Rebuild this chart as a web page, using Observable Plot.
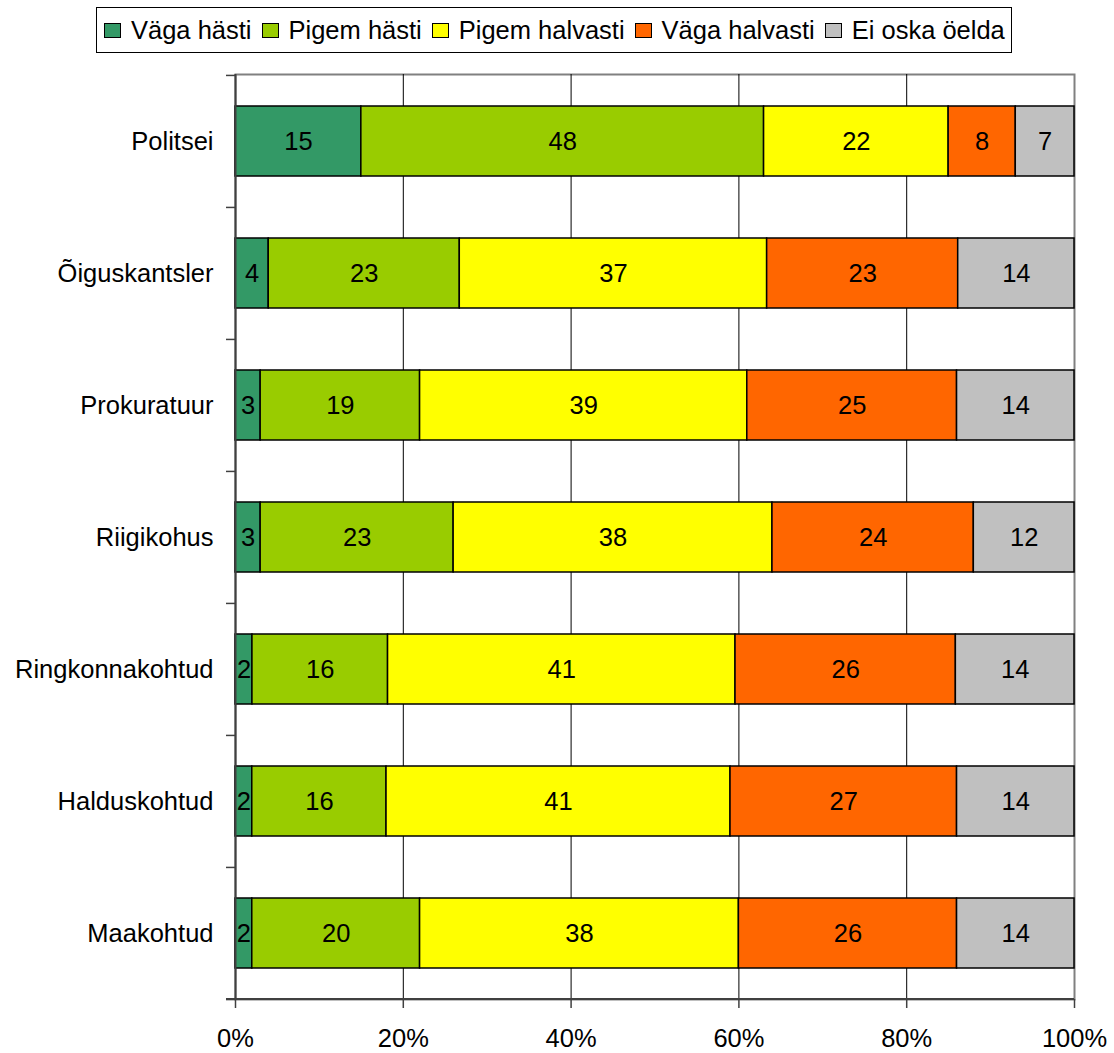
<!DOCTYPE html>
<html>
<head>
<meta charset="utf-8">
<script src="https://cdn.jsdelivr.net/npm/d3@7"></script>
<script src="https://cdn.jsdelivr.net/npm/@observablehq/plot@0.6"></script>
<style>
  html, body { margin: 0; padding: 0; background: #fff; }
  body { font-family: "Liberation Sans", Arial, sans-serif; width: 1114px; height: 1053px; position: relative; overflow: hidden; }
  #legend { position: absolute; left: 96px; top: 7px; height: 46px; box-sizing: border-box; border: 1px solid #000;
            display: inline-flex; align-items: center; padding: 0 6px 0 7px; font-size: 25.5px; white-space: nowrap; color: #000; }
  #legend .item { display: inline-flex; align-items: center; margin-right: 10px; }
  #legend .item:last-child { margin-right: 0; }
  #legend .sw { width: 15px; height: 13px; border: 1.5px solid #000; margin-right: 10px; display: inline-block; }
  #chart { position: absolute; left: 0; top: 60px; }
</style>
</head>
<body>
<div id="legend"></div>
<div id="chart"></div>
<script>
// ---- data ----
const categories = ["Politsei", "Õiguskantsler", "Prokuratuur", "Riigikohus", "Ringkonnakohtud", "Halduskohtud", "Maakohtud"];
const series = ["Väga hästi", "Pigem hästi", "Pigem halvasti", "Väga halvasti", "Ei oska öelda"];
const vagaHasti     = [15,  4,  3,  3,  2,  2,  2];
const pigemHasti    = [48, 23, 19, 23, 16, 16, 20];
const pigemHalvasti = [22, 37, 39, 38, 41, 41, 38];
const vagaHalvasti  = [ 8, 23, 25, 24, 26, 27, 26];
const eiOska        = [ 7, 14, 14, 12, 14, 14, 14];
const seriesColors = ["#339966", "#99cc00", "#ffff00", "#ff6600", "#c0c0c0"];
const xTicks = [0, 0.2, 0.4, 0.6, 0.8, 1];

const seriesValues = [vagaHasti, pigemHasti, pigemHalvasti, vagaHalvasti, eiOska];
const data = [];
categories.forEach((c, i) => {
  series.forEach((s, j) => data.push({cat: c, series: s, value: seriesValues[j][i]}));
});

// ---- legend ----
const legend = d3.select("#legend");
series.forEach((s, j) => {
  const it = legend.append("span").attr("class", "item");
  it.append("span").attr("class", "sw").style("background", seriesColors[j]);
  it.append("span").text(s);
});

// ---- chart ----
const W = 1114, H = 993;
const mT = 14, mB = 54, mL = 235, mR = 40;
const step = (H - mT - mB) / categories.length;
const fs = 25.5;

const bottomLine = (index, scales, values, dims) => {
  const g = d3.create("svg:g");
  const yb = dims.height - dims.marginBottom;
  g.append("line")
    .attr("x1", scales.x(0) - 9).attr("x2", scales.x(1))
    .attr("y1", yb).attr("y2", yb)
    .attr("stroke", "#404040").attr("stroke-width", 2);
  return g.node();
};

const chart = Plot.plot({
  width: W, height: H,
  marginTop: mT, marginBottom: mB, marginLeft: mL, marginRight: mR,
  style: {fontFamily: "'Liberation Sans', Arial, sans-serif", fontSize: fs + "px", color: "#000", background: "#fff"},
  x: {domain: [0, 1]},
  y: {domain: categories, paddingInner: 0.47, paddingOuter: 0.235, label: null},
  color: {domain: series, range: seriesColors},
  marks: [
    Plot.frame({stroke: "#808080", strokeWidth: 2}),
    Plot.ruleX(xTicks.slice(1, -1), {stroke: "#000", strokeWidth: 1}),
    Plot.barX(data, {x: "value", y: "cat", fill: "series", stroke: "#000", strokeWidth: 1.5, offset: "normalize"}),
    Plot.text(data, Plot.stackX({x: "value", y: "cat", text: "value", offset: "normalize", fill: "#000", fontSize: fs})),
    Plot.ruleX([0], {stroke: "#404040", strokeWidth: 2}),
    bottomLine,
    Plot.axisY({tickSize: 0, tickPadding: 22, fontSize: fs, label: null}),
    Plot.axisY(categories, {tickSize: 9, tickFormat: () => "", dy: -step / 2, stroke: "#404040", strokeWidth: 1.5}),
    Plot.axisY(categories.slice(-1), {tickSize: 9, tickFormat: () => "", dy: step / 2, stroke: "#404040", strokeWidth: 1.5}),
    Plot.axisX(xTicks, {tickSize: 9, tickPadding: 20, tickFormat: d3.format(".0%"), fontSize: fs, label: null, stroke: "#404040", strokeWidth: 1.5})
  ]
});
document.getElementById("chart").appendChild(chart);
</script>
</body>
</html>
